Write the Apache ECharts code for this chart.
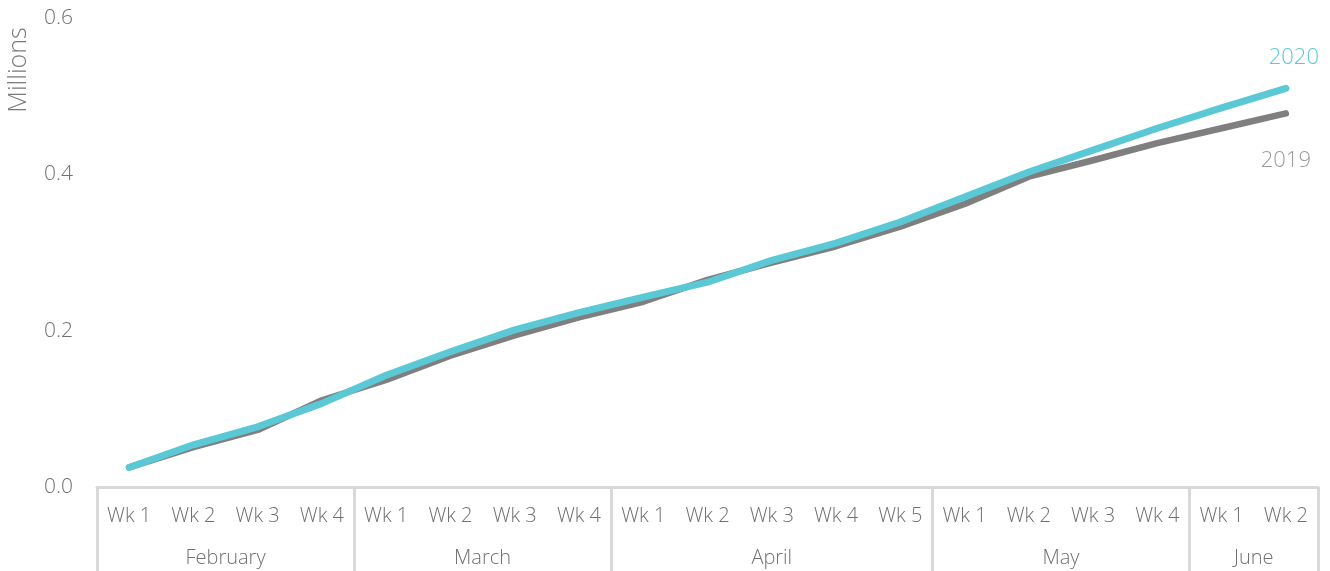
<!DOCTYPE html>
<html>
<head>
<meta charset="utf-8">
<script src="https://cdn.jsdelivr.net/npm/echarts@6/dist/echarts.min.js"></script>
<style>
html,body{margin:0;padding:0;background:#fff;}
#chart{width:1330px;height:571px;}
</style>
</head>
<body>
<div id="chart"></div>
<script>
const weeks = ['Wk 1','Wk 2','Wk 3','Wk 4','Wk 1','Wk 2','Wk 3','Wk 4','Wk 1','Wk 2','Wk 3','Wk 4','Wk 5','Wk 1','Wk 2','Wk 3','Wk 4','Wk 1','Wk 2'];
const months = ['February','March','April','May','June'];
const monthWeeks = [4,4,5,4,2];
const series2019 = [0.025,0.051,0.073,0.111,0.137,0.168,0.194,0.217,0.237,0.265,0.287,0.308,0.333,0.362,0.397,0.418,0.440,0.459,0.478];
const series2020 = [0.025,0.054,0.077,0.107,0.143,0.173,0.201,0.223,0.243,0.262,0.290,0.312,0.339,0.371,0.403,0.431,0.459,0.485,0.510];
const yTicks = [0, 0.2, 0.4, 0.6];

const boundaries = [0];
const centers = [];
monthWeeks.forEach(n => {
  const start = boundaries[boundaries.length - 1];
  centers.push(start + n / 2);
  boundaries.push(start + n);
});
const total = boundaries[boundaries.length - 1];

const FONT = '"Open Sans", sans-serif';
const chart = echarts.init(document.getElementById('chart'));

chart.setOption({
  animation: false,
  textStyle: { fontFamily: FONT },
  grid: { left: 97, right: 12, top: 18, bottom: 84, containLabel: false },
  xAxis: [
    {
      type: 'category',
      data: weeks,
      boundaryGap: true,
      position: 'bottom',
      axisLine: { show: true, lineStyle: { color: '#d9d9d9', width: 3 } },
      axisTick: { show: false },
      axisLabel: { color: '#707070', fontSize: 20, fontWeight: 300, margin: 19, fontFamily: FONT, interval: 0 },
      splitLine: { show: false }
    },
    {
      type: 'value',
      min: 0,
      max: total,
      position: 'bottom',
      axisLine: { show: false },
      axisTick: { show: true, customValues: boundaries, length: 84, lineStyle: { color: '#d9d9d9', width: 3 } },
      axisLabel: {
        show: true,
        customValues: centers,
        margin: 61,
        color: '#707070',
        fontSize: 20,
        fontWeight: 300,
        fontFamily: FONT,
        formatter: v => {
          const i = centers.findIndex(c => Math.abs(c - v) < 1e-6);
          return i >= 0 ? months[i] : '';
        }
      },
      splitLine: { show: false }
    }
  ],
  yAxis: {
    type: 'value',
    min: 0,
    max: 0.6,
    interval: 0.2,
    axisLine: { show: false },
    axisTick: { show: false },
    splitLine: { show: false },
    axisLabel: {
      color: '#707070',
      fontSize: 21,
      fontWeight: 300,
      fontFamily: FONT,
      margin: 24,
      customValues: yTicks,
      formatter: v => v.toFixed(1)
    }
  },
  graphic: [
    {
      type: 'text',
      x: 19,
      y: 70,
      rotation: Math.PI / 2,
      style: {
        text: 'Millions',
        fill: '#7a7a7a',
        font: '300 25px "Open Sans", sans-serif',
        align: 'center',
        verticalAlign: 'middle'
      }
    }
  ],
  series: [
    {
      name: '2019',
      type: 'line',
      data: series2019,
      xAxisIndex: 0,
      symbol: 'none',
      smooth: false,
      lineStyle: { color: '#7f7f7f', width: 6.5, cap: 'round', join: 'round' },
      itemStyle: { color: '#7f7f7f' },
      endLabel: {
        show: true,
        distance: 0,
        align: 'center',
        verticalAlign: 'middle',
        offset: [0, 47],
        color: '#9a9a9a',
        fontSize: 22,
        fontWeight: 300,
        fontFamily: FONT,
        formatter: p => p.seriesName
      },
      z: 2
    },
    {
      name: '2020',
      type: 'line',
      data: series2020,
      xAxisIndex: 0,
      symbol: 'none',
      smooth: false,
      lineStyle: { color: '#5bc8d6', width: 7, cap: 'round', join: 'round' },
      itemStyle: { color: '#5bc8d6' },
      endLabel: {
        show: true,
        distance: 0,
        align: 'center',
        verticalAlign: 'middle',
        offset: [8, -31],
        color: '#5bc8d6',
        fontSize: 22,
        fontWeight: 300,
        fontFamily: FONT,
        formatter: p => p.seriesName
      },
      z: 3
    }
  ]
});
</script>
</body>
</html>
